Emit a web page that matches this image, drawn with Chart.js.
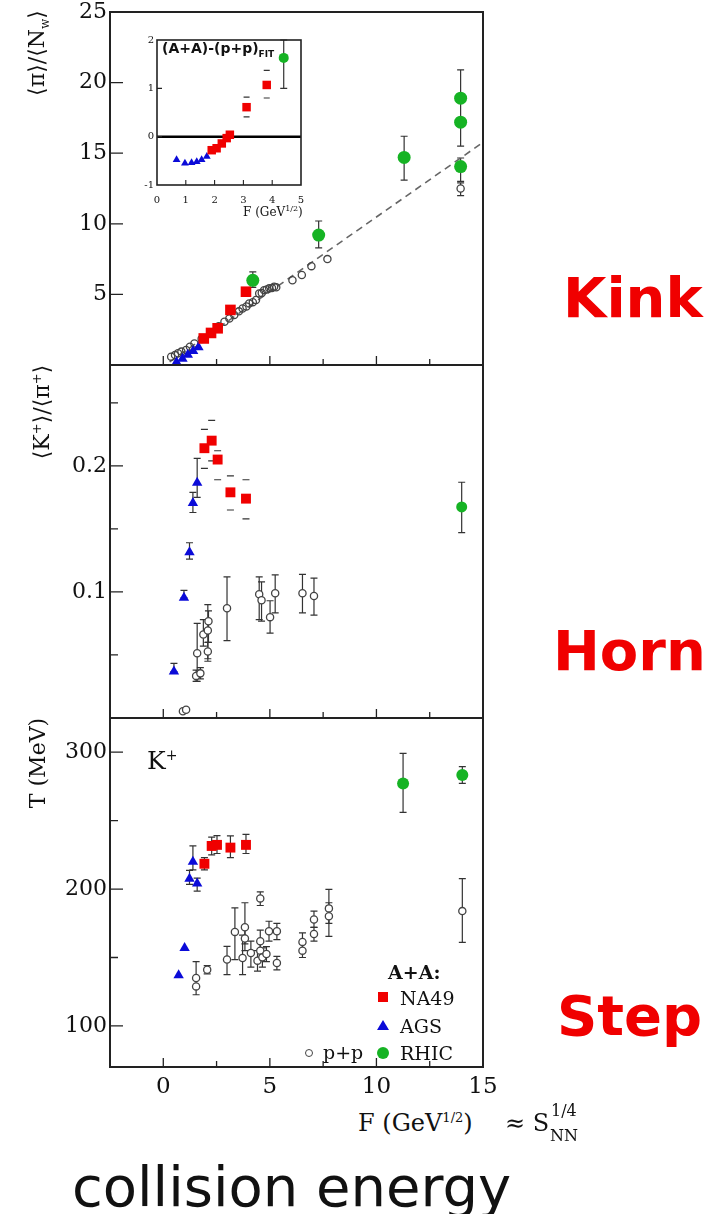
<!DOCTYPE html>
<html>
<head>
<meta charset="utf-8">
<script src="https://cdn.jsdelivr.net/npm/chart.js@4.4.1/dist/chart.umd.min.js"></script>
<style>
  body { margin: 0; background: #fff; }
  #page { position: relative; width: 715px; height: 1214px; overflow: hidden; background: #fff; font-family: "DejaVu Serif", serif; color: #111; }
  canvas { position: absolute; left: 0; }
  .t { position: absolute; white-space: nowrap; line-height: 1; }
  .big { font-family: "DejaVu Sans", sans-serif; font-weight: bold; color: #f00000; font-size: 56px; }
  .rot { transform: translate(-50%, -50%) rotate(-90deg); font-size: 22px; }
  sup, sub { line-height: 0; }
</style>
</head>
<body>
<div id="page">
  <canvas id="cTop" width="715" height="375" style="top:0px"></canvas>
  <canvas id="cMid" width="715" height="375" style="top:355px"></canvas>
  <canvas id="cBot" width="715" height="400" style="top:708px"></canvas>
  <canvas id="cIns" width="400" height="240" style="top:0px"></canvas>

  <!-- axis titles -->
  <div class="t rot" style="left:37px; top:53px;">⟨π⟩/⟨N<sub style="font-size:12px">w</sub>⟩</div>
  <div class="t rot" style="left:42px; top:412px;">⟨K<sup style="font-size:13px">+</sup>⟩/⟨π<sup style="font-size:13px">+</sup>⟩</div>
  <div class="t rot" style="left:38px; top:763px;">T (MeV)</div>

  <!-- inset texts -->
  <div class="t" style="left:162px; top:41px; font-family:'DejaVu Sans',sans-serif; font-weight:bold; font-size:14px;">(A+A)-(p+p)<sub style="font-size:9px">FIT</sub></div>
  <div class="t" style="left:243px; top:206px; font-size:12px;">F (GeV<sup style="font-size:8px">1/2</sup>)</div>

  <!-- K+ label -->
  <div class="t" style="left:147px; top:748px; font-size:25px;">K<sup style="font-size:14px">+</sup></div>

  <!-- legend -->
  <div class="t" style="left:388px; top:963px; font-size:19px; font-weight:bold;">A+A:</div>
  <div style="position:absolute; left:378px; top:992px; width:10px; height:10px; background:#f00000;"></div>
  <div class="t" style="left:400px; top:989px; font-size:19px;">NA49</div>
  <div style="position:absolute; left:377px; top:1020px; width:0; height:0; border-left:6px solid transparent; border-right:6px solid transparent; border-bottom:10px solid #0b0bd8;"></div>
  <div class="t" style="left:400px; top:1017px; font-size:19px;">AGS</div>
  <div style="position:absolute; left:377px; top:1047px; width:12px; height:12px; border-radius:50%; background:#16b324;"></div>
  <div class="t" style="left:400px; top:1044px; font-size:19px;">RHIC</div>
  <div style="position:absolute; left:305px; top:1049px; width:6px; height:6px; border-radius:50%; border:1.2px solid #444;"></div>
  <div class="t" style="left:323px; top:1043px; font-size:19px;">p+p</div>

  <!-- x axis title -->
  <div class="t" style="left:358px; top:1111px; font-size:24px;">F (GeV<sup style="font-size:13px">1/2</sup>)</div>
  <div class="t" style="left:505px; top:1111px; font-size:24px;">≈ S</div>
  <div class="t" style="left:551px; top:1103px; font-size:16px;">1/4</div>
  <div class="t" style="left:550px; top:1128px; font-size:16px;">NN</div>

  <!-- side labels -->
  <div class="t big" style="left:563px; top:270px;">Kink</div>
  <div class="t big" style="left:553px; top:623px;">Horn</div>
  <div class="t big" style="left:557px; top:988px;">Step</div>

  <div class="t" style="left:72px; top:1159px; font-family:'DejaVu Sans',sans-serif; font-size:56px;">collision energy</div>
</div>

<script>
// ---- panel 1: <pi>/<N_w> ----
const piNa49X = [1.9, 2.24, 2.55, 3.15, 3.88];
const piNa49Y = [1.88, 2.27, 2.6, 3.9, 5.19];
const piAgsX = [0.62, 0.9, 1.15, 1.4, 1.65];
const piAgsY = [0.2, 0.45, 0.72, 1.0, 1.25];
const piRhicX = [4.2, 7.29, 11.3, 13.95, 13.95, 13.95];
const piRhicY = [6.0, 9.2, 14.7, 14.05, 17.2, 18.9];
const piRhicLo = [5.5, 8.3, 13.1, 13.0, 15.5, 17.2];
const piRhicHi = [6.6, 10.2, 16.2, 14.66, 17.2, 20.9];
const piPpX = [0.37, 0.55, 0.69, 0.85, 1.07, 1.25, 1.46, 1.8, 2.2, 2.6, 2.87, 3.1, 3.33, 3.55, 3.72, 3.9,
               4.03, 4.2, 4.35, 4.5, 4.62, 4.73, 4.85, 4.97, 5.1, 5.2, 5.3, 6.06, 6.5, 6.95, 7.7];
const piPpY = [0.59, 0.7, 0.83, 0.95, 1.06, 1.3, 1.53, 1.85, 2.3, 2.75, 3.07, 3.3, 3.54, 3.8, 4.0, 4.15,
               4.36, 4.45, 4.6, 5.07, 5.1, 5.3, 5.35, 5.43, 5.45, 5.55, 5.5, 6.0, 6.37, 7.0, 7.5];
const piPpRhicX = [13.95], piPpRhicY = [12.5], piPpRhicLo = [12.0], piPpRhicHi = [12.9];
const piFitX = [0.3, 15], piFitY = [0.22, 15.77];

// ---- inset: (A+A)-(p+p)fit ----
const dAgsX = [0.68, 0.97, 1.2, 1.38, 1.55, 1.73];
const dAgsY = [-0.48, -0.55, -0.54, -0.52, -0.48, -0.41];
const dNa49X = [1.9, 2.07, 2.25, 2.42, 2.53, 3.11, 3.81];
const dNa49Y = [-0.28, -0.24, -0.14, -0.03, 0.04, 0.61, 1.07];
const dNa49Lo = [null, null, null, null, null, 0.41, 0.8];
const dNa49Hi = [null, null, null, null, null, 0.82, 1.37];
const dRhicX = [4.4], dRhicY = [1.63], dRhicLo = [1.0], dRhicHi = [2.0];
const zeroX = [0, 5], zeroY = [0, 0];

// ---- panel 2: <K+>/<pi+> ----
const kNa49X = [1.93, 2.27, 2.55, 3.15, 3.88];
const kNa49Y = [0.214, 0.220, 0.205, 0.179, 0.174];
const kNa49Lo = [0.198, 0.204, 0.189, 0.165, 0.158];
const kNa49Hi = [0.229, 0.236, 0.212, 0.192, 0.189];
const kAgsX = [0.5, 0.97, 1.23, 1.39, 1.59];
const kAgsY = [0.0368, 0.0954, 0.1314, 0.1706, 0.1866];
const kAgsLo = [0.0368, 0.0954, 0.126, 0.163, 0.175];
const kAgsHi = [0.0434, 0.1013, 0.139, 0.179, 0.206];
const kRhicX = [14.0], kRhicY = [0.1674], kRhicLo = [0.147], kRhicHi = [0.187];
const kPpX = [0.92, 1.07, 1.54, 1.74, 1.59, 1.88, 2.09, 2.12, 2.09, 2.99, 4.5, 4.61, 5.01, 5.25, 6.53, 7.07];
const kPpY = [0.0054, 0.0066, 0.0334, 0.0354, 0.0514, 0.0662, 0.0694, 0.0768, 0.0528, 0.087,
              0.0982, 0.0934, 0.08, 0.099, 0.099, 0.0968];
const kPpLo = [null, null, 0.029, 0.031, 0.029, 0.057, 0.047, 0.06, 0.045, 0.0614,
               0.078, 0.0768, 0.0674, 0.0834, 0.0834, 0.0816];
const kPpHi = [null, null, 0.038, 0.04, 0.075, 0.078, 0.09, 0.085, 0.06, 0.112,
               0.112, 0.108, 0.093, 0.1136, 0.114, 0.111];

// ---- panel 3: T (MeV) ----
const tNa49X = [1.93, 2.27, 2.52, 3.15, 3.88];
const tNa49Y = [218.5, 231.5, 232.3, 230.3, 232.3];
const tNa49Lo = [214, 225, 226, 223, 226];
const tNa49Hi = [223, 238, 239, 238.9, 240];
const tAgsX = [0.72, 1.0, 1.23, 1.39, 1.59];
const tAgsY = [137, 157, 207.5, 220, 204];
const tAgsLo = [null, null, 203.4, 214, 198.5];
const tAgsHi = [null, null, 213.7, 231.5, 208];
const tRhicX = [11.25, 14.03], tRhicY = [277.2, 283.4], tRhicLo = [256, 277.2], tRhicHi = [299.2, 289.4];
const tPpX = [1.54, 1.54, 2.06, 2.99, 3.36, 3.72, 3.83, 3.83, 4.11, 4.42, 4.55, 4.55, 4.55, 4.65, 4.84,
              4.96, 5.33, 5.33, 6.53, 6.53, 7.07, 7.07, 7.77, 7.77, 14.03];
const tPpY = [128.9, 135, 141.1, 148.5, 168.7, 149.6, 172.1, 163.9, 153.3, 147.7, 193.2, 161.9, 155, 150.1, 152.6,
              169.2, 169.2, 146, 161.4, 155, 167.2, 177.8, 185.9, 180.2, 183.9];
const tPpLo = [122.8, null, 138, 137.5, 148.5, 137.5, 160, 155, 143, 140, 188, 155, 148, 143, 147,
               161.9, 163, 141, 155, 150, 162, 172, 175, 165.5, 161];
const tPpHi = [147, null, 144, 158.2, 186.3, 166.3, 190, 172, 162, 155, 198, 170, 162, 157, 158,
               176.5, 175, 150.9, 168, 160, 172, 183.9, 199.8, 190, 207.6];

// ---- tick labels ----
const fTickVals = [0, 5, 10, 15], fTickLabels = ['0', '5', '10', '15'];
const piTickVals = [5, 10, 15, 20, 25], piTickLabels = ['5', '10', '15', '20', '25'];
const kTickVals = [0.1, 0.2], kTickLabels = ['0.1', '0.2'];
const tTickVals = [100, 200, 300], tTickLabels = ['100', '200', '300'];
const insXVals = [0, 1, 2, 3, 4, 5], insXLabels = ['0', '1', '2', '3', '4', '5'];
const insYVals = [-1, 0, 1, 2], insYLabels = ['-1', '0', '1', '2'];

const RED = '#f00000', BLUE = '#0b0bd8', GREEN = '#16b324', GREY = '#444';

const pts = (xs, ys) => xs.map((x, i) => ({ x, y: ys[i] }));

// error bars (drawn under the markers)
const errorBars = {
  id: 'errorBars',
  beforeDatasetsDraw(chart) {
    const { ctx, scales: { x, y } } = chart;
    chart.data.datasets.forEach(ds => {
      if (!ds.lo) return;
      ctx.save();
      ctx.strokeStyle = '#333';
      ctx.lineWidth = 1.2;
      ds.data.forEach((p, i) => {
        if (ds.lo[i] == null) return;
        const px = x.getPixelForValue(p.x);
        const yl = y.getPixelForValue(ds.lo[i]), yh = y.getPixelForValue(ds.hi[i]);
        const c = ds.cap || 3.5;
        ctx.beginPath();
        if (!ds.capsOnly) { ctx.moveTo(px, yl); ctx.lineTo(px, yh); }
        ctx.moveTo(px - c, yl); ctx.lineTo(px + c, yl);
        ctx.moveTo(px - c, yh); ctx.lineTo(px + c, yh);
        ctx.stroke();
      });
      ctx.restore();
    });
  }
};

// box frame + inward ticks
const frame = {
  id: 'frame',
  afterDraw(chart, args, o) {
    const { ctx, chartArea: a, scales: { x, y } } = chart;
    ctx.save();
    ctx.strokeStyle = '#222';
    ctx.lineWidth = o.tickWidth || 1.3;
    ctx.beginPath();
    (o.xMajor || []).forEach(v => { const p = x.getPixelForValue(v); ctx.moveTo(p, a.bottom); ctx.lineTo(p, a.bottom - o.xLen[0]); });
    (o.xMinor || []).forEach(v => { const p = x.getPixelForValue(v); ctx.moveTo(p, a.bottom); ctx.lineTo(p, a.bottom - o.xLen[1]); });
    (o.yMajor || []).forEach(v => { const p = y.getPixelForValue(v); ctx.moveTo(a.left, p); ctx.lineTo(a.left + o.yLen[0], p); });
    (o.yMinor || []).forEach(v => { const p = y.getPixelForValue(v); ctx.moveTo(a.left, p); ctx.lineTo(a.left + o.yLen[1], p); });
    ctx.stroke();
    ctx.lineWidth = o.width || 2;
    ctx.strokeRect(a.left, a.top, a.right - a.left, a.bottom - a.top);
    ctx.restore();
  }
};

function yAxis(min, max, vals, labels, width, size, pad) {
  return {
    type: 'linear', min, max,
    afterBuildTicks: s => { s.ticks = vals.map(v => ({ value: v })); },
    afterFit: s => { s.width = width; s.paddingTop = 0; s.paddingBottom = 0; },
    grid: { display: false, drawTicks: false },
    border: { display: false },
    ticks: { autoSkip: false, padding: pad, color: '#111', font: { family: 'DejaVu Serif', size },
             callback: (v, i) => labels[i] }
  };
}

function xAxis(min, max, vals, labels, height, size, pad) {
  return {
    type: 'linear', min, max,
    afterBuildTicks: s => { s.ticks = vals.map(v => ({ value: v })); },
    afterFit: s => { s.height = height; s.paddingLeft = 0; s.paddingRight = 0; },
    grid: { display: false, drawTicks: false },
    border: { display: false },
    ticks: { autoSkip: false, maxRotation: 0, padding: pad, color: '#111', font: { family: 'DejaVu Serif', size },
             callback: (v, i) => labels[i] }
  };
}

const hiddenX = { type: 'linear', min: -2.5, max: 15, display: false };

function makeChart(id, datasets, xOpt, yOpt, padding, frameOpts) {
  return new Chart(document.getElementById(id), {
    type: 'scatter',
    data: { datasets },
    options: {
      responsive: false, animation: false, devicePixelRatio: 1,
      layout: { padding },
      plugins: { legend: { display: false }, tooltip: { enabled: false }, frame: frameOpts },
      scales: { x: xOpt, y: yOpt }
    },
    plugins: [errorBars, frame]
  });
}

const na49 = (xs, ys, r, extra) => Object.assign({ data: pts(xs, ys), pointStyle: 'rect', pointRadius: r,
  backgroundColor: RED, borderColor: RED, borderWidth: 0 }, extra);
const ags = (xs, ys, r, extra) => Object.assign({ data: pts(xs, ys), pointStyle: 'triangle', pointRadius: r,
  backgroundColor: BLUE, borderColor: BLUE, borderWidth: 0 }, extra);
const rhic = (xs, ys, r, extra) => Object.assign({ data: pts(xs, ys), pointStyle: 'circle', pointRadius: r,
  backgroundColor: GREEN, borderColor: GREEN, borderWidth: 0 }, extra);
const pp = (xs, ys, fill, extra) => Object.assign({ data: pts(xs, ys), pointStyle: 'circle', pointRadius: 3.6,
  backgroundColor: fill, borderColor: GREY, borderWidth: 1.3 }, extra);

const xFrame = { xMajor: [0, 5, 10], xMinor: [2.5, 7.5, 12.5], xLen: [9, 6] };

// top panel
makeChart('cTop', [
  rhic(piRhicX, piRhicY, 6.5, { lo: piRhicLo, hi: piRhicHi }),
  na49(piNa49X, piNa49Y, 7.5),
  ags(piAgsX, piAgsY, 6),
  pp(piPpRhicX, piPpRhicY, '#fff', { lo: piPpRhicLo, hi: piPpRhicHi }),
  pp(piPpX, piPpY, 'rgba(255,255,255,0)'),
  { data: pts(piFitX, piFitY), showLine: true, pointRadius: 0, borderColor: '#666', borderWidth: 1.6, borderDash: [7, 5] }
], hiddenX, yAxis(0, 25, piTickVals, piTickLabels, 110, 22, 3),
  { top: 12, right: 232, bottom: 10, left: 0 },
  Object.assign({ yMajor: [5, 10, 15, 20], yLen: [13, 8] }, xFrame));

// inset
makeChart('cIns', [
  rhic(dRhicX, dRhicY, 5, { lo: dRhicLo, hi: dRhicHi }),
  na49(dNa49X, dNa49Y, 6, { lo: dNa49Lo, hi: dNa49Hi, capsOnly: true, cap: 3 }),
  ags(dAgsX, dAgsY, 4.5),
  { data: pts(zeroX, zeroY), showLine: true, pointRadius: 0, borderColor: '#000', borderWidth: 2.5 }
], xAxis(0, 5, insXVals, insXLabels, 30, 10, 9), yAxis(-1, 2, insYVals, insYLabels, 157, 10, 3),
  { top: 40, right: 99, bottom: 25, left: 0 },
  { xMajor: [1, 2, 3, 4], xLen: [5, 5], yMajor: [0, 1], yLen: [5, 5], width: 1.6, tickWidth: 1.1 });

// middle panel
makeChart('cMid', [
  rhic(kRhicX, kRhicY, 5.5, { lo: kRhicLo, hi: kRhicHi }),
  na49(kNa49X, kNa49Y, 7, { lo: kNa49Lo, hi: kNa49Hi, capsOnly: true }),
  ags(kAgsX, kAgsY, 6, { lo: kAgsLo, hi: kAgsHi }),
  pp(kPpX, kPpY, '#fff', { lo: kPpLo, hi: kPpHi })
], hiddenX, yAxis(0, 0.28, kTickVals, kTickLabels, 110, 22, 3),
  { top: 10, right: 232, bottom: 12, left: 0 },
  Object.assign({ yMajor: [0.1, 0.2], yMinor: [0.05, 0.15, 0.25], yLen: [13, 8] }, xFrame));

// bottom panel
makeChart('cBot', [
  rhic(tRhicX, tRhicY, 6, { lo: tRhicLo, hi: tRhicHi }),
  na49(tNa49X, tNa49Y, 7, { lo: tNa49Lo, hi: tNa49Hi }),
  ags(tAgsX, tAgsY, 6, { lo: tAgsLo, hi: tAgsHi }),
  pp(tPpX, tPpY, '#fff', { lo: tPpLo, hi: tPpHi })
], xAxis(-2.5, 15, fTickVals, fTickLabels, 40, 23, 6), yAxis(70, 325, tTickVals, tTickLabels, 110, 22, 3),
  { top: 10, right: 232, bottom: 1, left: 0 },
  Object.assign({ yMajor: [100, 200, 300], yMinor: [150, 250], yLen: [13, 8] }, xFrame));
</script>
</body>
</html>
